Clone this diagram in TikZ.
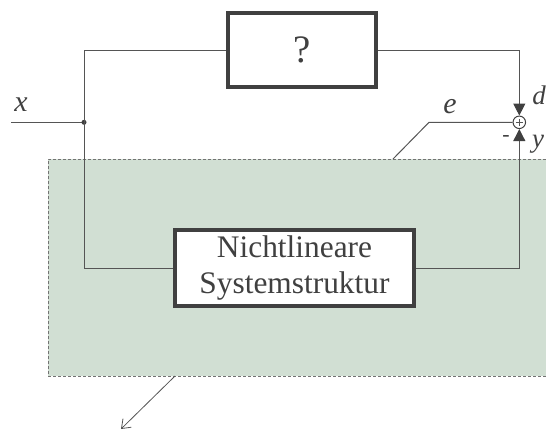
\documentclass[tikz,border=0pt]{standalone}
\usepackage{fontspec}
\setmainfont{Liberation Serif}
\usetikzlibrary{arrows.meta}

\definecolor{linegray}{HTML}{555555}
\definecolor{boxgray}{HTML}{404040}
\definecolor{areagreen}{HTML}{D1DFD3}

\begin{document}
\begin{tikzpicture}[x=1bp,y=-1bp,
    line width=1bp, draw=linegray, text=boxgray,
    blockbox/.style={draw=boxgray, line width=3.5bp, fill=white, inner sep=0pt},
    sumnode/.style={circle, draw=boxgray, line width=1bp, fill=white, minimum size=12.5bp, inner sep=0pt},
    signal/.style={font=\fontsize{30}{30}\selectfont\itshape},
    smallsignal/.style={font=\fontsize{27}{27}\selectfont\itshape},
    tofill/.style={-{Triangle[length=12bp,width=12bp,color=boxgray]}}]
    \useasboundingbox (0,0) rectangle (546,428);
    % grauer Bereich mit gestricheltem Rand
    \fill[areagreen] (48,159) rectangle (546,376);
    \draw[black!55, dash pattern=on 3bp off 2bp] (546,159) -- (48,159) -- (48,376) -- (546,376);
    % Bloecke
    \node[blockbox, minimum width=148bp, minimum height=74bp,
          font=\fontsize{39}{39}\selectfont] (unknown) at (302,50) {?};
    \node[blockbox, minimum width=239bp, minimum height=76bp, align=center,
          font=\fontsize{31.5}{36}\selectfont] (system) at (294.5,268) {Nichtlineare\\Systemstruktur};
    \node[sumnode] (sum) at (519.3,122.3) {};
    \draw ([xshift=-3.5bp]sum.center) -- ([xshift=3.5bp]sum.center)
          ([yshift=-3.5bp]sum.center) -- ([yshift=3.5bp]sum.center);
    % Hilfspunkte
    \coordinate (xin) at (11,122.3);
    \coordinate (branch) at (84,122.3);
    \coordinate (topleft) at (84,50);
    \coordinate (topright) at (519.3,50);
    \coordinate (botleft) at (84,268);
    \coordinate (botright) at (519.3,268);
    \coordinate (eknee) at (429,122.3);
    \coordinate (efoot) at (393,159);
    \coordinate (afoot) at (175,376);
    \coordinate (atip) at (121,429);
    % Signalwege
    \draw (xin) -- (branch);
    \fill[boxgray] (branch) circle (2.5bp);
    \draw (branch) -- (topleft) -- (unknown.west);
    \draw (branch) -- (botleft) -- (system.west);
    \draw[tofill] (unknown.east) -- (topright) -- (sum.north);
    \draw[tofill] (system.east) -- (botright) -- (sum.south);
    \draw (sum.west) -- (eknee) -- (efoot);
    \draw[line width=0.8bp, -{Straight Barb[length=8bp,width=12bp]}] (afoot) -- (atip);
    % Beschriftungen
    \node[signal] (xlabel) at (21,105) {x};
    \node[signal] (elabel) at (450,107) {e};
    \node[smallsignal] (dlabel) at (539,95) {d};
    \node[smallsignal] (ylabel) at (538,144) {y};
    \node[font=\fontsize{22}{22}\selectfont] (minus) at (506,139) {-};
\end{tikzpicture}
\end{document}
